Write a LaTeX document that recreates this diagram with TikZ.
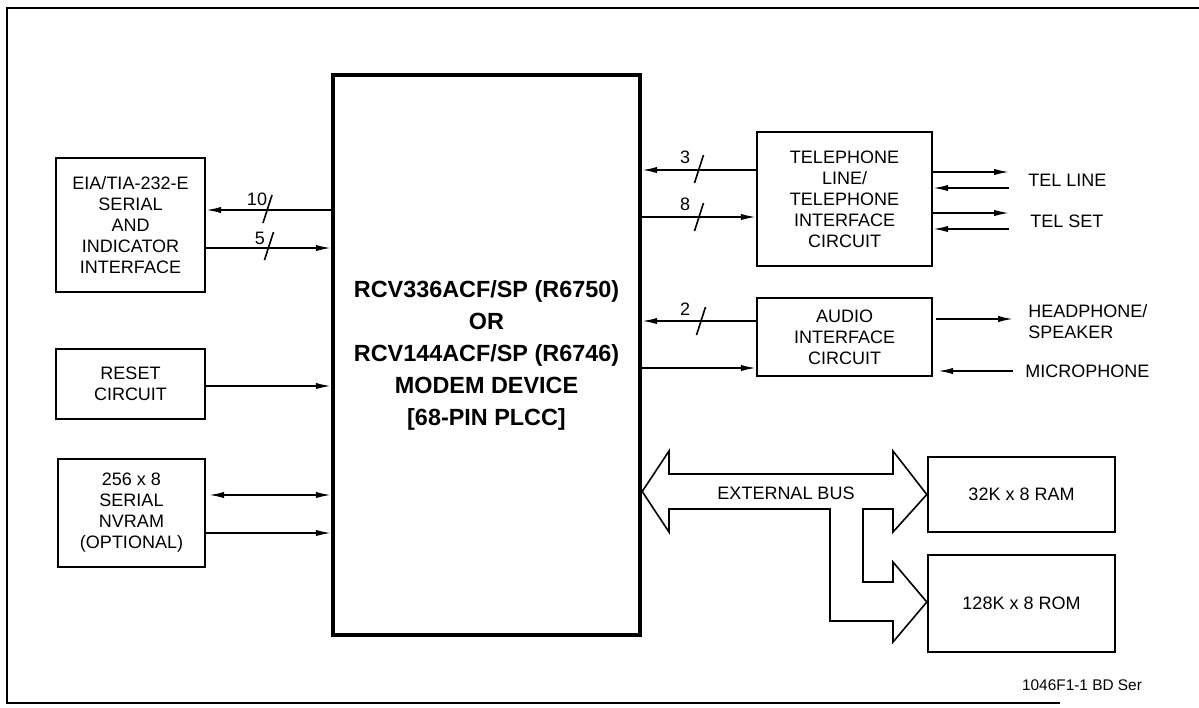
\documentclass[tikz,border=0pt]{standalone}
\usepackage{fontspec}
\setmainfont{Liberation Sans}
\usetikzlibrary{arrows.meta}

\begin{document}
\begin{tikzpicture}
[x=0.5pt,y=-0.5pt
,blk/.style={draw,line width=1.2pt,align=center,inner sep=0pt,font=\fontsize{9}{10.5}\selectfont}
,chip/.style={blk,line width=2.2pt,font=\fontsize{11.7}{16}\selectfont\bfseries}
,sig/.style={draw,line width=0.8pt,arrows={-Latex[length=7.5pt,width=3.2pt]}}
,dsig/.style={sig,arrows={Latex[length=7.5pt,width=3.2pt]-Latex[length=7.5pt,width=3.2pt]}}
,tick/.style={draw,line width=0.8pt}
,lbl/.style={font=\fontsize{9}{10.5}\selectfont,inner sep=0pt,align=left}
,busline/.style={draw,line width=0.8pt,line join=miter}
]
\useasboundingbox (0,0) rectangle (1199,707);
% frame
\draw[line width=0.8pt] (1199,8) -| (7,703) -- (1060,703);

% blocks
\node[chip,minimum width=153.5pt,minimum height=280pt] (main) at (486.5,355)
  {RCV336ACF/SP (R6750)\\OR\\RCV144ACF/SP (R6746)\\MODEM DEVICE\\{[68-PIN PLCC]}};
\node[blk,minimum width=74.5pt,minimum height=67pt] (eia) at (130.5,225)
  {EIA/TIA-232-E\\SERIAL\\AND\\INDICATOR\\INTERFACE};
\node[blk,minimum width=74.5pt,minimum height=35pt] (rst) at (130.5,384) {RESET\\CIRCUIT};
\node[blk,minimum width=73.5pt,minimum height=54pt] (nvr) at (131.5,513)
  {256 x 8\\SERIAL\\NVRAM\\(OPTIONAL)};
\node[blk,minimum width=87.5pt,minimum height=67pt] (tel) at (844.5,199)
  {TELEPHONE\\LINE/\\TELEPHONE\\INTERFACE\\CIRCUIT};
\node[blk,minimum width=87.5pt,minimum height=39pt] (aud) at (844.5,337)
  {AUDIO\\INTERFACE\\CIRCUIT};
\node[blk,minimum width=93.5pt,minimum height=37.5pt] (ram) at (1021.5,494.5) {32K x 8 RAM};
\node[blk,minimum width=93.5pt,minimum height=48.5pt] (rom) at (1021.5,603.5) {128K x 8 ROM};

% outside labels
\node[lbl,anchor=west] (tline) at (1028,180) {TEL LINE};
\node[lbl,anchor=west] (tset) at (1030,221) {TEL SET};
\node[lbl,anchor=west] (hph) at (1028,322) {HEADPHONE/\\SPEAKER};
\node[lbl,anchor=west] (mic) at (1025,371) {MICROPHONE};
\coordinate (tl1) at (1009,172);
\coordinate (tl2) at (1009,188);
\coordinate (ts1) at (1009,213);
\coordinate (ts2) at (1009,229);
\coordinate (hp) at (1013,319);
\coordinate (mc) at (1013,371);

% left side
\draw[sig] (main.west |- 0,210) -- (eia.east |- 0,210);
\draw[sig] (eia.east |- 0,248) -- (main.west |- 0,248);
\draw[sig] (rst.east |- 0,386) -- (main.west |- 0,386);
\draw[dsig] ([xshift=1.5pt]nvr.east |- 0,495) -- (main.west |- 0,495);
\draw[sig] (nvr.east |- 0,533) -- (main.west |- 0,533);
\draw[tick] (263,223) -- (272,195);
\draw[tick] (264.5,260) -- (273.5,232);
\node[lbl] (w10) at (257,199) {10};
\node[lbl] (w5) at (260,238) {5};

% right side
\draw[sig] (tel.west |- 0,170) -- (main.east |- 0,170);
\draw[sig] (main.east |- 0,217) -- (tel.west |- 0,217);
\draw[sig] (aud.west |- 0,321) -- (main.east |- 0,321);
\draw[sig] (main.east |- 0,368) -- (aud.west |- 0,368);
\draw[tick] (694.5,183) -- (703.5,155);
\draw[tick] (694.5,231) -- (703.5,203);
\draw[tick] (696.5,335) -- (705.5,307);
\node[lbl] (w3) at (685,157) {3};
\node[lbl] (w8) at (685,204) {8};
\node[lbl] (w2) at (685,309) {2};

\draw[sig] (tel.east |- tl1) -- (tl1);
\draw[sig] (tl2) -- (tel.east |- tl2);
\draw[sig] (tel.east |- ts1) -- (ts1);
\draw[sig] (ts2) -- (tel.east |- ts2);
\draw[sig] ([xshift=1.5pt]aud.east |- hp) -- (hp);
\draw[sig] (mc) -- ([xshift=2.5pt]aud.east |- mc);

% external bus
\draw[busline] (main.east |- 0,491.5) -- (669,451) -- (669,474) -- (893,474) -- (893,451)
  -- (ram.west) -- (893,532) -- (893,509) -- (863,509) -- (863,582) -- (893,582)
  -- (893,562) -- (rom.west |- 0,602) -- (893,642) -- (893,621) -- (830,621)
  -- (830,509) -- (669,509) -- (669,532) -- cycle;
\node[lbl] (ebus) at (786,493) {EXTERNAL BUS};

\node[lbl,font=\fontsize{7.7}{9}\selectfont] (fig) at (1082,685) {1046F1-1 BD Ser};
\end{tikzpicture}
\end{document}
